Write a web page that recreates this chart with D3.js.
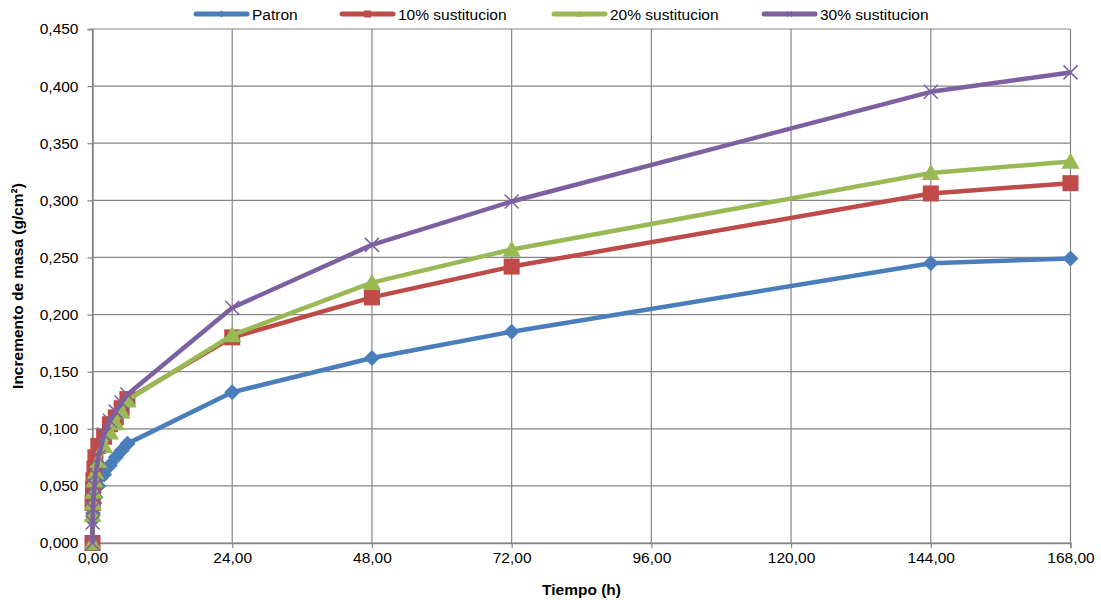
<!DOCTYPE html>
<html><head><meta charset="utf-8">
<script src="https://cdn.jsdelivr.net/npm/d3@7"></script>
<style>body{margin:0;background:#fff}svg{display:block}text{font-family:"Liberation Sans",Arial,sans-serif}</style>
</head><body><svg id="c" width="1101" height="600"></svg>
<script>
const times = [0, 0.017, 0.083, 0.167, 0.333, 0.5, 1, 2, 3, 4, 5, 6, 24, 48, 72, 144, 168];
const patron = [0, 0.020, 0.026, 0.030, 0.035, 0.040, 0.050, 0.060, 0.068, 0.075, 0.081, 0.087, 0.132, 0.162, 0.185, 0.245, 0.249];
const sust10 = [0, 0.035, 0.047, 0.055, 0.065, 0.075, 0.085, 0.093, 0.104, 0.110, 0.118, 0.126, 0.180, 0.215, 0.242, 0.306, 0.315];
const sust20 = [0, 0.025, 0.035, 0.045, 0.055, 0.062, 0.072, 0.085, 0.097, 0.105, 0.115, 0.125, 0.182, 0.228, 0.257, 0.324, 0.334];
const sust30 = [0, 0.018, 0.030, 0.040, 0.050, 0.060, 0.075, 0.095, 0.107, 0.115, 0.123, 0.130, 0.206, 0.261, 0.299, 0.395, 0.412];
const seriesNames = ["Patron", "10% sustitucion", "20% sustitucion", "30% sustitucion"];
const xTicks = [0, 24, 48, 72, 96, 120, 144, 168];
const yTicks = [0, 0.05, 0.1, 0.15, 0.2, 0.25, 0.3, 0.35, 0.4, 0.45];

const colors = ["#4a7ebb", "#be4b48", "#98b954", "#7d60a0"];
const markers = ["diamond", "square", "triangle", "cross"];
const seriesVals = [patron, sust10, sust20, sust30];

const svg = d3.select("#c");
const L = 92.5, R = 1070.5, T = 29, B = 543;
const x = d3.scaleLinear().domain([0, 168]).range([L, R]);
const y = d3.scaleLinear().domain([0, 0.45]).range([B, T]);
const fmt = d => d.toFixed(2).replace(".", ",");
const fmtY = d => d.toFixed(3).replace(".", ",");
const FS = 15.5;

// grid
svg.append("g").selectAll("line").data(yTicks).join("line")
  .attr("x1", L).attr("x2", R).attr("y1", d => y(d)).attr("y2", d => y(d))
  .attr("stroke", "#868686").attr("stroke-width", 1.2);
svg.append("g").selectAll("line").data(xTicks).join("line")
  .attr("y1", T).attr("y2", B).attr("x1", d => x(d)).attr("x2", d => x(d))
  .attr("stroke", "#868686").attr("stroke-width", 1.2);

// axes
const xAxis = svg.append("g").attr("transform", `translate(0,${B})`)
  .call(d3.axisBottom(x).tickValues(xTicks).tickFormat(fmt).tickSize(5).tickPadding(4));
const yAxis = svg.append("g").attr("transform", `translate(${L},0)`)
  .call(d3.axisLeft(y).tickValues(yTicks).tickFormat(fmtY).tickSize(5).tickPadding(9));
[xAxis, yAxis].forEach(a => {
  a.select(".domain").attr("stroke", "#868686").attr("stroke-width", 1.5);
  a.selectAll(".tick line").attr("stroke", "#868686").attr("stroke-width", 1.2);
  a.selectAll("text").attr("font-size", FS).attr("fill", "#000")
    .style("font-family", '"Liberation Sans", Arial, sans-serif');
});

// titles
svg.append("text").attr("x", (L + R) / 2).attr("y", 595).attr("text-anchor", "middle")
  .attr("font-size", FS).attr("font-weight", "bold").text("Tiempo (h)");
svg.append("text").attr("transform", `translate(23,${(T + B) / 2}) rotate(-90)`)
  .attr("text-anchor", "middle").attr("font-size", FS).attr("font-weight", "bold")
  .text("Incremento de masa (g/cm²)");

function drawMarker(g, type, color, cx, cy, s) {
  if (type === "diamond") {
    g.append("path").attr("d", `M${cx},${cy - s}L${cx + s},${cy}L${cx},${cy + s}L${cx - s},${cy}Z`).attr("fill", color);
  } else if (type === "square") {
    g.append("rect").attr("x", cx - s).attr("y", cy - s).attr("width", 2 * s).attr("height", 2 * s).attr("fill", color);
  } else if (type === "triangle") {
    g.append("path").attr("d", `M${cx},${cy - s}L${cx + s},${cy + s * 0.8}L${cx - s},${cy + s * 0.8}Z`).attr("fill", color);
  } else {
    g.append("path").attr("d", `M${cx - s},${cy - s}L${cx + s},${cy + s}M${cx - s},${cy + s}L${cx + s},${cy - s}`)
      .attr("stroke", color).attr("stroke-width", 1.5).attr("fill", "none");
  }
}
const mSize = [8, 8, 9, 7];

const line = d3.line().x(d => x(d[0])).y(d => y(d[1]));
seriesVals.forEach((vals, i) => {
  const g = svg.append("g");
  const pts = times.map((t, j) => [t, vals[j]]);
  g.append("path").datum(pts).attr("d", line).attr("fill", "none")
    .attr("stroke", colors[i]).attr("stroke-width", 4.5).attr("stroke-linejoin", "round");
  pts.forEach(p => drawMarker(g, markers[i], colors[i], x(p[0]), y(p[1]), mSize[i]));
});

// legend
const legX = [194, 340, 552, 762];
seriesNames.forEach((n, i) => {
  const g = svg.append("g");
  g.append("line").attr("x1", legX[i] + 2).attr("x2", legX[i] + 53).attr("y1", 14).attr("y2", 14)
    .attr("stroke", colors[i]).attr("stroke-width", 5).attr("stroke-linecap", "round");
  drawMarker(g, markers[i], colors[i], legX[i] + 27.5, 14, i === 3 ? 2.5 : 3.5);
  g.append("text").attr("x", legX[i] + 58).attr("y", 20).attr("font-size", FS).text(n);
});
</script></body></html>
